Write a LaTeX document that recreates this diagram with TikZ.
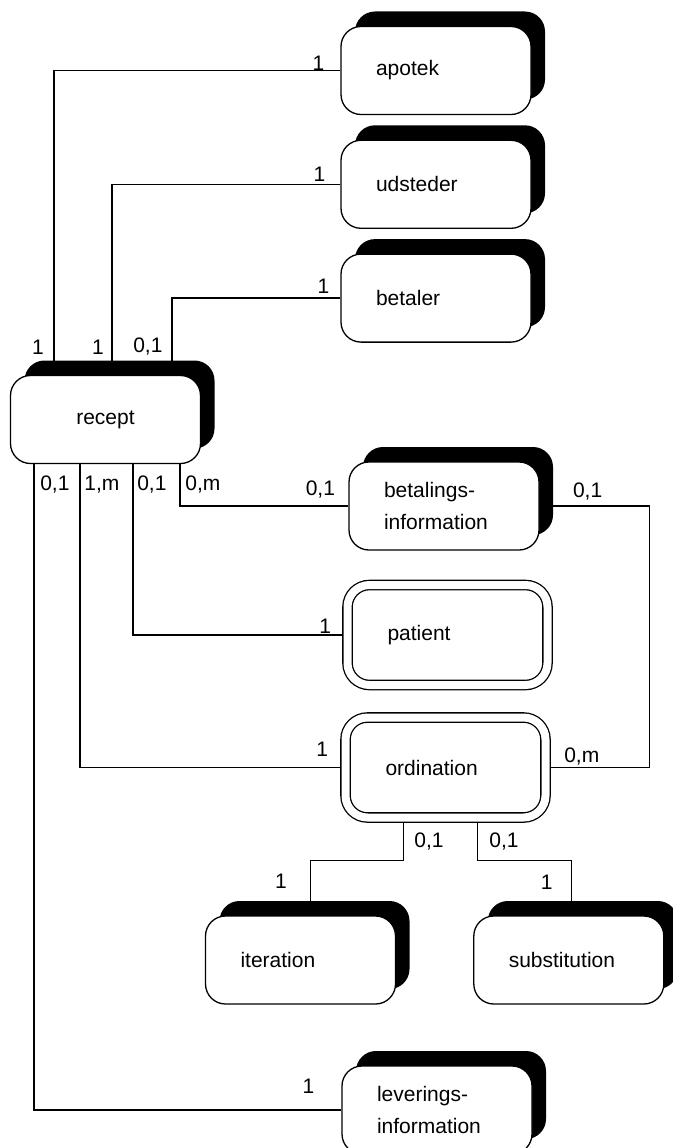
\documentclass[tikz,border=0pt]{standalone}
\usepackage{fontspec}
\setmainfont{Liberation Sans}
\usetikzlibrary{positioning,shadows}

\begin{document}
\begin{tikzpicture}[x=1pt,y=1pt,line width=1.3pt,node distance=24.5pt,
		font=\fontsize{21}{32}\selectfont,
		entity/.style={draw,fill=white,rounded corners=20pt,minimum width=190pt,minimum height=88pt,
			text width=120pt,inner xsep=35pt,align=left,
			drop shadow={shadow xshift=14pt,shadow yshift=15pt,fill=black,opacity=1}},
		weak/.style={draw,double=white,double distance=8pt,rounded corners=22pt,minimum width=200pt,
			minimum height=100pt,text width=120pt,inner xsep=40pt,align=left,outer sep=5.3pt},
		card/.style={inner sep=1pt}]
		\useasboundingbox (0,0) rectangle (672,-1148);
		% entities
		\node[entity] (apotek) at (436,-70.5) {apotek};
		\node[entity] [below=of apotek] (udsteder) {udsteder};
		\node[entity] [below=of udsteder] (betaler) {betaler};
		\node[entity,align=center] (recept) at (105.5,-419.5) {recept};
		\node[entity] (betalings) at (444,-506) {betalings-\\information};
		\node[weak] (patient) at (447.5,-635) {patient};
		\node[weak] (ordination) at (445.5,-767.5) {ordination};
		\node[entity] (iteration) at (300.5,-960) {iteration};
		\node[entity] [right=77pt of iteration] (substitution) {substitution};
		\node[entity] (levering) at (437,-1110) {leverings-\\information};
		% relations
		\draw (apotek.west) -| ([xshift=44pt]recept.north west);
		\draw (udsteder.west) -| ([xshift=102pt]recept.north west);
		\draw (betaler.west) -| ([xshift=162pt]recept.north west);
		\draw ([xshift=24pt]recept.south west) |- (levering.west);
		\draw ([xshift=70pt]recept.south west) |- (ordination.west);
		\draw ([xshift=123pt]recept.south west) |- (patient.west);
		\draw ([xshift=170pt]recept.south west) |- (betalings.west);
		\draw (betalings.east) -- ++(110pt,0) |- (ordination.east);
		\draw ([xshift=-42pt]ordination.south) -- ++(0,-38pt) -| ([xshift=10pt]iteration.north);
		\draw ([xshift=32pt]ordination.south) -- ++(0,-38pt) -| ([xshift=3pt]substitution.north);
		% cardinalities
		\node[card] (c_apotek) at ([shift={(-22,7.5)}]apotek.west) {1};
		\node[card] (c_udsteder) at ([shift={(-21,10)}]udsteder.west) {1};
		\node[card] (c_betaler) at ([shift={(-17,11.5)}]betaler.west) {1};
		\node[card] (c_r_apotek) at ([shift={(28,28)}]recept.north west) {1};
		\node[card] (c_r_udsteder) at ([shift={(88,28)}]recept.north west) {1};
		\node[card] (c_r_betaler) at ([shift={(138,28)}]recept.north west) {0,1};
		\node[card] (c_r_levering) at ([shift={(45,-20)}]recept.south west) {0,1};
		\node[card] (c_r_ordination) at ([shift={(92,-20)}]recept.south west) {1,m};
		\node[card] (c_r_patient) at ([shift={(142,-20)}]recept.south west) {0,1};
		\node[card] (c_r_betalings) at ([shift={(193,-20)}]recept.south west) {0,m};
		\node[card] (c_betalings_w) at ([shift={(-28,16)}]betalings.west) {0,1};
		\node[card] (c_betalings_e) at ([shift={(48,14)}]betalings.east) {0,1};
		\node[card] (c_patient) at ([shift={(-17,9)}]patient.west) {1};
		\node[card] (c_ordination_w) at ([shift={(-18,18.5)}]ordination.west) {1};
		\node[card] (c_ordination_e) at ([shift={(31,10.5)}]ordination.east) {0,m};
		\node[card] (c_o_iteration) at ([shift={(-16.5,-19)}]ordination.south) {0,1};
		\node[card] (c_o_substitution) at ([shift={(58.5,-19)}]ordination.south) {0,1};
		\node[card] (c_iteration) at ([shift={(-19.5,34)}]iteration.north) {1};
		\node[card] (c_substitution) at ([shift={(-22,33)}]substitution.north) {1};
		\node[card] (c_levering) at ([shift={(-33,24)}]levering.west) {1};
	\end{tikzpicture}
\end{document}
